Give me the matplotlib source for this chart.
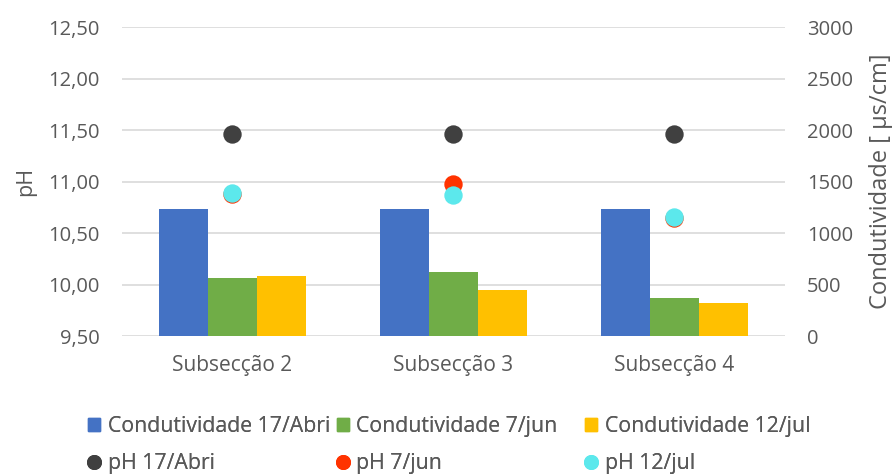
import matplotlib.pyplot as plt
import numpy as np
from matplotlib.lines import Line2D
from matplotlib.patches import Patch
from matplotlib.ticker import FuncFormatter

plt.rcParams['font.family'] = ['Open Sans', 'DejaVu Sans']

categories = ["Subsecção 2", "Subsecção 3", "Subsecção 4"]
cond_abr = [1235, 1235, 1235]
cond_jun = [562, 624, 367]
cond_jul = [578, 451, 325]
ph_abr = [11.46, 11.46, 11.46]
ph_jun = [10.88, 10.98, 10.65]
ph_jul = [10.89, 10.87, 10.66]

cond_labels = ["Condutividade 17/Abri", "Condutividade 7/jun", "Condutividade 12/jul"]
ph_labels = ["pH 17/Abri", "pH 7/jun", "pH 12/jul"]

bar_colors = ["#4472C4", "#70AD47", "#FFC000"]
pt_colors = ["#404040", "#FF3300", "#5CE8EC"]
text_color = "#595959"

fig = plt.figure(figsize=(8.93, 4.75), dpi=100)
ax = fig.add_axes([0.1366, 0.2926, 0.7424, 0.6504])
ax2 = ax.twinx()

x = np.arange(len(categories))
w = 0.222
for i, (vals, c) in enumerate(zip([cond_abr, cond_jun, cond_jul], bar_colors)):
    ax.bar(x + (i - 1) * w, vals, width=w, color=c, zorder=3)

ax.set_ylim(0, 3000)
ax.set_yticks(np.arange(0, 3001, 500))
ax.set_xlim(-0.5, 2.5)
ax.set_xticks(x)
ax.set_xticklabels(categories)
ax.grid(axis='y', color='#D9D9D9', linewidth=1.2, zorder=0)
ax.set_axisbelow(True)
ax.yaxis.tick_right()
ax.yaxis.set_label_position('right')
ax.set_ylabel("Condutividade [ µs/cm]", color=text_color, fontsize=17, labelpad=11)

for vals, c in zip([ph_abr, ph_jun, ph_jul], pt_colors):
    ax2.scatter(x, vals, s=175, color=c, zorder=4, linewidths=0)
ax2.set_ylim(9.5, 12.5)
ax2.set_yticks(np.arange(9.5, 12.51, 0.5))
ax2.yaxis.set_major_formatter(FuncFormatter(lambda v, p: f"{v:.2f}".replace('.', ',')))
ax2.yaxis.tick_left()
ax2.yaxis.set_label_position('left')
ax2.set_ylabel("pH", color=text_color, fontsize=15.5, labelpad=9)

for a in (ax, ax2):
    for s in a.spines.values():
        s.set_visible(False)
    a.tick_params(axis='y', length=0, labelsize=14.5, colors=text_color, pad=16)
ax.tick_params(axis='x', length=0, labelsize=15, colors=text_color, pad=14)

# legend: three columns of equal width, one legend per column
col_x = [0.0985, 0.377, 0.655]
for lbl_c, lbl_p, bc, pc, cx in zip(cond_labels, ph_labels, bar_colors, pt_colors, col_x):
    hs = [Patch(color=bc, label=lbl_c),
          Line2D([], [], marker='o', linestyle='none', markersize=10.8,
                 markerfacecolor=pc, markeredgewidth=0, label=lbl_p)]
    leg = fig.legend(handles=hs, ncol=1, loc='center left', bbox_to_anchor=(cx, 0.064),
                     frameon=False, fontsize=15.3, handlelength=0.58, handleheight=0.58,
                     handletextpad=0.35, labelspacing=0.75, labelcolor=text_color,
                     borderpad=0, borderaxespad=0)
    fig.add_artist(leg)

fig.savefig("out.png", dpi=100)
